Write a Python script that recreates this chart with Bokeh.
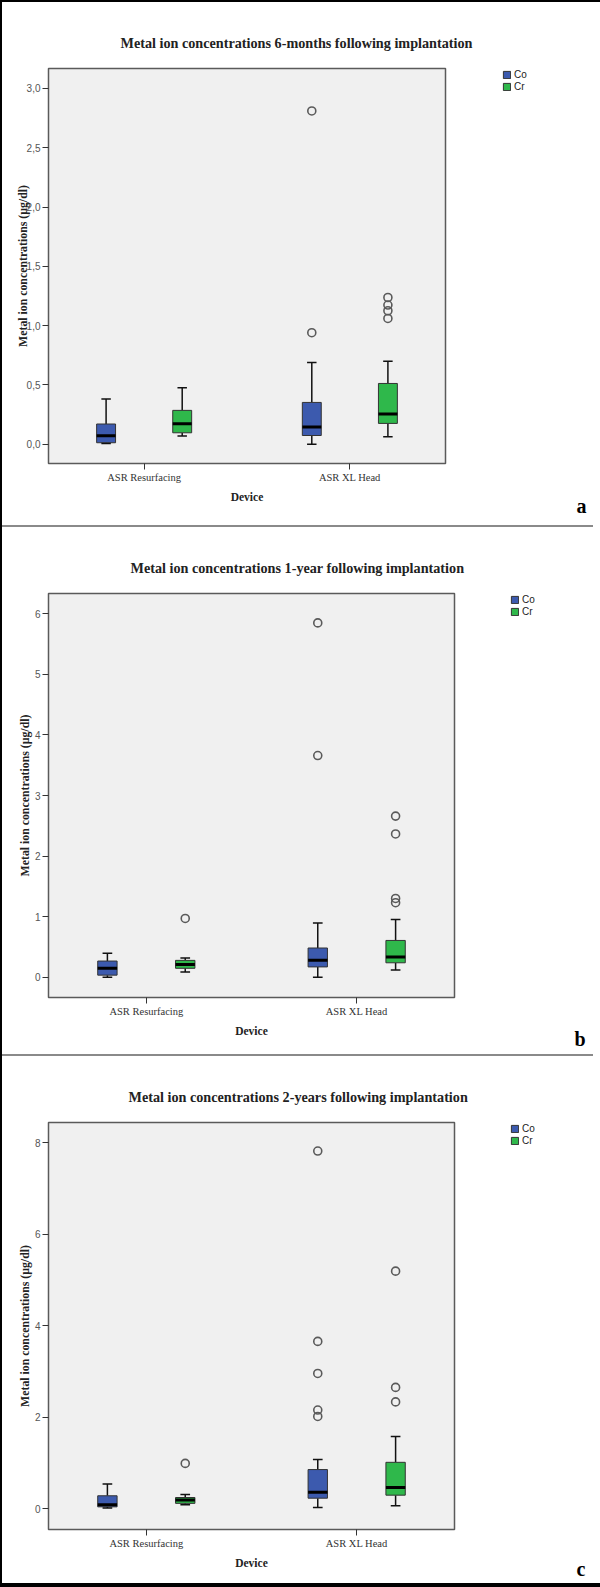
from bokeh.plotting import figure
from bokeh.models import (Range1d, FixedTicker, Legend, LegendItem,
                          ColumnDataSource, Div, Title)
from bokeh.layouts import column, row
from bokeh.embed import file_html
from bokeh.resources import INLINE

# ---------------- data ----------------
devices = ["ASR Resurfacing", "ASR XL Head"]
metals = ["Co", "Cr"]
metal_colors = ["#3C5AAE", "#2FB84B"]
titles = ["Metal ion concentrations 6-months following implantation",
          "Metal ion concentrations 1-year following implantation",
          "Metal ion concentrations 2-years following implantation"]
letters = ["a", "b", "c"]
y_title = "Metal ion concentrations (\u00b5g/dl)"
x_title = "Device"

# Panel a: 6 months  (order of each list: [ASR Resurfacing, ASR XL Head])
a_co_low = [0.005, 0.0]
a_co_q1 = [0.012, 0.073]
a_co_median = [0.07, 0.144]
a_co_q3 = [0.17, 0.352]
a_co_high = [0.38, 0.689]
a_co_outliers = [[], [0.94, 2.81]]
a_cr_low = [0.068, 0.062]
a_cr_q1 = [0.096, 0.175]
a_cr_median = [0.172, 0.254]
a_cr_q3 = [0.285, 0.512]
a_cr_high = [0.475, 0.70]
a_cr_outliers = [[], [1.06, 1.125, 1.173, 1.237]]
a_y_ticks = [0, 0.5, 1.0, 1.5, 2.0, 2.5, 3.0]
a_y_tick_labels = ["0,0", "0,5", "1,0", "1,5", "2,0", "2,5", "3,0"]

# Panel b: 1 year
b_co_low = [0.0, 0.0]
b_co_q1 = [0.034, 0.17]
b_co_median = [0.147, 0.278]
b_co_q3 = [0.267, 0.482]
b_co_high = [0.397, 0.896]
b_co_outliers = [[], [3.66, 5.85]]
b_cr_low = [0.085, 0.119]
b_cr_q1 = [0.147, 0.238]
b_cr_median = [0.21, 0.335]
b_cr_q3 = [0.278, 0.607]
b_cr_high = [0.318, 0.953]
b_cr_outliers = [[0.97], [1.23, 1.30, 2.365, 2.66]]
b_y_ticks = [0, 1, 2, 3, 4, 5, 6]
b_y_tick_labels = ["0", "1", "2", "3", "4", "5", "6"]

# Panel c: 2 years
c_co_low = [0.02, 0.03]
c_co_q1 = [0.045, 0.234]
c_co_median = [0.09, 0.362]
c_co_q3 = [0.287, 0.86]
c_co_high = [0.543, 1.078]
c_co_outliers = [[], [2.02, 2.16, 2.96, 3.66, 7.82]]
c_cr_low = [0.09, 0.068]
c_cr_q1 = [0.121, 0.30]
c_cr_median = [0.196, 0.468]
c_cr_q3 = [0.249, 1.018]
c_cr_high = [0.317, 1.584]
c_cr_outliers = [[0.995], [2.338, 2.655, 5.196]]
c_y_ticks = [0, 2, 4, 6, 8]
c_y_tick_labels = ["0", "2", "4", "6", "8"]

panel_stats = [
    [(a_co_low, a_co_q1, a_co_median, a_co_q3, a_co_high, a_co_outliers),
     (a_cr_low, a_cr_q1, a_cr_median, a_cr_q3, a_cr_high, a_cr_outliers)],
    [(b_co_low, b_co_q1, b_co_median, b_co_q3, b_co_high, b_co_outliers),
     (b_cr_low, b_cr_q1, b_cr_median, b_cr_q3, b_cr_high, b_cr_outliers)],
    [(c_co_low, c_co_q1, c_co_median, c_co_q3, c_co_high, c_co_outliers),
     (c_cr_low, c_cr_q1, c_cr_median, c_cr_q3, c_cr_high, c_cr_outliers)],
]
panel_ticks = [(a_y_ticks, a_y_tick_labels), (b_y_ticks, b_y_tick_labels),
               (c_y_ticks, c_y_tick_labels)]

# ---------------- layout / style ----------------
FIG_W = 591
geom = [
    dict(H=523, fw=397, fh=395, left=46, top=66,
         yr=(-0.163, 3.168), title_off=72, ylab_sof=-6, leg_x=57,
         let_off=-141, let_sof=-21),
    dict(H=527, fw=406, fh=404, left=38, top=66,
         yr=(-0.335, 6.335), title_off=82, ylab_sof=0, leg_x=56,
         let_off=-131, let_sof=-24),
    dict(H=527, fw=406, fh=407, left=38, top=66,
         yr=(-0.45, 8.444), title_off=80, ylab_sof=0, leg_x=56,
         let_off=-131, let_sof=-28),
]
OFFSETS = [-0.185, 0.185]
BOX_W = 0.092
CAP_W = 0.046
SERIF = "Liberation Serif"
SANS = "Liberation Sans"


def make_panel(i):
    g = geom[i]
    W = FIG_W
    H = g["H"]
    right = W - g["left"] - g["fw"]
    bottom = H - g["top"] - g["fh"]
    p = figure(width=W, height=H, frame_width=g["fw"], frame_height=g["fh"],
               x_range=Range1d(0.535, 2.465), y_range=Range1d(*g["yr"]),
               output_backend="svg", toolbar_location=None, tools="",
               background_fill_color="#F0F0F0", border_fill_color="white",
               outline_line_color="#5A5A5A", outline_line_width=1.5,
               min_border_left=g["left"], min_border_right=right,
               min_border_top=g["top"], min_border_bottom=bottom,
               title=titles[i])
    p.grid.visible = False

    p.title.align = "left"
    p.title.offset = g["title_off"]
    p.title.standoff = 36
    p.title.text_font = SERIF
    p.title.text_font_style = "bold"
    p.title.text_font_size = "14.2px"
    p.title.text_color = "#222222"

    xa = p.xaxis[0]
    xa.ticker = FixedTicker(ticks=[1, 2])
    xa.major_label_overrides = {1: devices[0], 2: devices[1]}
    xa.axis_label = x_title
    xa.axis_label_text_font = SERIF
    xa.axis_label_text_font_style = "bold"
    xa.axis_label_text_font_size = "11.5px"
    xa.axis_label_text_color = "#222222"
    xa.axis_label_standoff = 5
    xa.major_label_text_font = SERIF
    xa.major_label_text_font_size = "10.5px"
    xa.major_label_text_color = "#333333"
    xa.major_label_standoff = 2

    ticks, tick_labels = panel_ticks[i]
    ya = p.yaxis[0]
    ya.ticker = FixedTicker(ticks=ticks)
    ya.major_label_overrides = {float(t): s for t, s in zip(ticks, tick_labels)}
    ya.major_label_text_font = SANS
    ya.major_label_text_font_size = "10px"
    ya.major_label_text_color = "#555555"
    ya.major_label_standoff = 2
    ya.axis_label = y_title
    ya.axis_label_text_font = SERIF
    ya.axis_label_text_font_style = "bold"
    ya.axis_label_text_font_size = "11.8px"
    ya.axis_label_text_color = "#222222"
    ya.axis_label_standoff = g["ylab_sof"]

    for ax in (xa, ya):
        ax.axis_line_color = None
        ax.major_tick_line_color = "#333333"
        ax.major_tick_line_width = 1
        ax.major_tick_out = 6
        ax.major_tick_in = 0
        ax.minor_tick_line_color = None

    box_renderers = []
    for m, (lo, q1, med, q3, hi, outs) in enumerate(panel_stats[i]):
        xs = [d + 1 + OFFSETS[m] for d in range(len(devices))]
        src = ColumnDataSource(dict(
            x=xs, lo=lo, q1=q1, med=med, q3=q3, hi=hi,
            cl=[x - CAP_W / 2 for x in xs], cr=[x + CAP_W / 2 for x in xs],
            bl=[x - BOX_W / 2 for x in xs], br=[x + BOX_W / 2 for x in xs]))
        p.segment(x0="x", y0="q3", x1="x", y1="hi", source=src,
                  line_color="#111111", line_width=1.5)
        p.segment(x0="x", y0="lo", x1="x", y1="q1", source=src,
                  line_color="#111111", line_width=1.5)
        r = p.vbar(x="x", width=BOX_W, bottom="q1", top="q3", source=src,
                   fill_color=metal_colors[m], line_color="#333333",
                   line_width=1)
        box_renderers.append(r)
        p.segment(x0="bl", y0="med", x1="br", y1="med", source=src,
                  line_color="black", line_width=3)
        p.segment(x0="cl", y0="hi", x1="cr", y1="hi", source=src,
                  line_color="#111111", line_width=1.5)
        p.segment(x0="cl", y0="lo", x1="cr", y1="lo", source=src,
                  line_color="#111111", line_width=1.5)
        ox, oy = [], []
        for d, vals in enumerate(outs):
            for v in vals:
                ox.append(xs[d])
                oy.append(v)
        p.scatter(ox, oy, marker="circle", size=8, fill_color=None,
                  line_color="#5A5A5A", line_width=1.6)

    legend = Legend(items=[LegendItem(label=metals[k], renderers=[box_renderers[k]])
                           for k in range(len(metals))],
                    location=(g["leg_x"], g["fh"] - 24),
                    padding=0, margin=0, spacing=1,
                    glyph_width=9, glyph_height=9, label_height=9,
                    label_standoff=3, label_text_font=SANS,
                    label_text_font_size="10px", label_text_color="#222222",
                    border_line_color=None, background_fill_alpha=0)
    p.add_layout(legend, "right")

    # panel letter, below the x axis, pushed to the right edge
    p.add_layout(Title(text=letters[i], align="right", offset=g["let_off"],
                       standoff=g["let_sof"], vertical_align="top",
                       text_font=SERIF, text_font_style="bold",
                       text_font_size="20px", text_color="black"), "below")
    return p


def bar(w, h, color):
    return Div(text="", width=w, height=h, margin=0,
               styles={"background-color": color})


panels = [make_panel(i) for i in range(3)]
inner = column(panels[0], bar(FIG_W, 2, "#8A8A8A"), panels[1],
               bar(FIG_W, 2, "#8A8A8A"), panels[2], spacing=0)
inner_h = sum(g["H"] for g in geom) + 4
layout = column(bar(600, 2, "black"),
                row(bar(2, inner_h, "black"), inner, bar(7, inner_h, "black"),
                    spacing=0),
                bar(600, 4, "black"), spacing=0)
open("out.html", "w").write(file_html(layout, INLINE))
